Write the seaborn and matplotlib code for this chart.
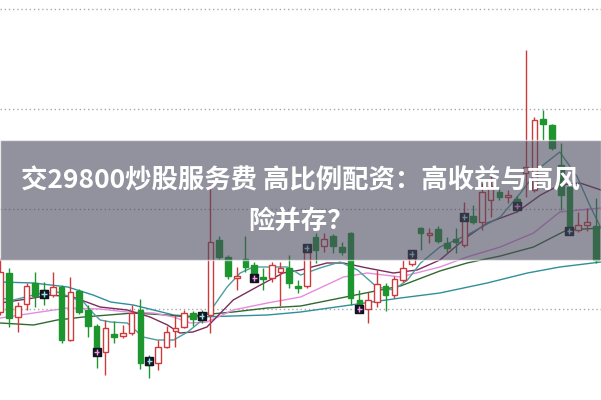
import numpy as np
import pandas as pd
import matplotlib
matplotlib.use("Agg")
import matplotlib.pyplot as plt
from matplotlib.patches import Rectangle
import seaborn as sns

# --------------------------
# Candle data
# --------------------------
opens = [9.97, 10.36, 9.92, 10.05, 10.26, 10.19, 10.14, 10.22, 9.69, 10.18,
         9.99, 9.83, 9.57, 9.75, 9.73, 9.76, 9.99, 9.51, 9.46, 9.62,
         9.78, 9.82, 9.96, 9.95, 9.94, 10.69, 10.52, 10.31, 10.50, 10.44,
         10.32, 10.31, 10.37, 10.41, 10.23, 10.23, 10.72, 10.63, 10.73, 10.62,
         10.76, 10.09, 10.00, 10.07, 10.23, 10.14, 10.29, 10.45, 10.81, 10.74,
         10.80, 10.66, 10.70, 10.64, 10.93, 10.87, 11.09, 11.17, 11.12, 11.10,
         11.36, 11.19, 11.90, 11.84, 11.44, 11.22, 10.79, 10.84, 10.83]
highs = [10.51, 10.41, 10.07, 10.26, 10.37, 10.27, 10.37, 10.24, 10.32, 10.20,
         10.04, 9.85, 9.89, 9.88, 9.84, 10.04, 10.10, 9.54, 9.69, 9.83,
         9.94, 9.99, 9.98, 9.99, 11.24, 10.73, 10.54, 10.42, 10.73, 10.47,
         10.41, 10.47, 10.47, 10.54, 10.29, 10.64, 10.76, 10.76, 10.75, 10.67,
         10.77, 10.19, 10.17, 10.39, 10.26, 10.33, 10.49, 10.59, 10.82, 10.81,
         10.83, 10.72, 10.81, 11.07, 11.04, 11.26, 11.44, 11.21, 11.19, 11.13,
         12.59, 11.92, 11.99, 11.85, 11.66, 11.24, 10.97, 11.01, 11.11]
lows = [9.94, 9.82, 9.77, 9.99, 10.02, 10.04, 10.12, 9.66, 9.68, 9.95,
        9.72, 9.41, 9.34, 9.66, 9.71, 9.74, 9.40, 9.31, 9.39, 9.61,
        9.62, 9.81, 9.83, 9.86, 9.76, 10.50, 10.30, 10.19, 10.37, 10.27,
        10.19, 10.27, 10.03, 10.21, 10.16, 10.21, 10.46, 10.57, 10.56, 10.54,
        10.04, 9.96, 9.86, 10.02, 9.98, 10.11, 10.27, 10.43, 10.59, 10.66,
        10.66, 10.56, 10.56, 10.62, 10.85, 10.79, 10.92, 11.09, 11.06, 10.97,
        11.12, 11.17, 11.69, 11.59, 10.99, 10.75, 10.77, 10.78, 10.46]
closes = [10.37, 9.91, 10.03, 10.23, 10.13, 10.12, 10.22, 9.69, 10.17, 9.97,
          9.83, 9.59, 9.81, 9.72, 9.76, 9.96, 9.46, 9.44, 9.62, 9.77,
          9.81, 9.96, 9.90, 9.91, 10.67, 10.52, 10.33, 10.33, 10.42, 10.29,
          10.30, 10.44, 10.41, 10.26, 10.21, 10.57, 10.59, 10.70, 10.63, 10.57,
          10.11, 9.99, 10.09, 10.25, 10.14, 10.30, 10.41, 10.53, 10.76, 10.76,
          10.68, 10.61, 10.67, 10.92, 10.87, 11.17, 11.23, 11.12, 11.14, 11.00,
          11.42, 11.89, 11.85, 11.61, 11.14, 10.78, 10.84, 10.87, 10.49]

# signal boxes drawn on some candles
signal_idx = [5, 11, 17, 23, 29, 35, 41, 47, 53, 59, 65]
signal_price = [10.15, 9.57, 9.48, 9.93, 10.31, 10.61, 10.00, 10.55, 10.92, 11.03, 10.78]
signal_kind = ["cyan", "pink", "cyan", "cyan", "pink", "cyan", "pink", "cyan", "cyan", "pink", "cyan"]

# --------------------------
# Moving average lines (sampled positions, candle index / price)
# --------------------------
ma5_x = [0, 1.5, 3.8, 4.9, 6.5, 8.0, 9.5, 10.6, 11.4, 12.6, 14.5, 16.3, 17.9, 19.8,
         21.4, 22.8, 24.3, 25.9, 27.4, 28.9, 31.2, 32.8, 34.3, 36.5, 38.8, 40.8,
         43.0, 44.9, 46.5, 48.0, 50.2, 53.3, 57.1, 59.4, 61.7, 63.9, 65.9, 67.4, 68.6]
ma5_y = [10.11, 10.09, 10.14, 10.16, 10.17, 10.12, 10.07, 9.96, 9.89, 9.87, 9.86, 9.72,
         9.69, 9.69, 9.77, 9.87, 10.02, 10.22, 10.36, 10.42, 10.42, 10.42, 10.34, 10.41,
         10.47, 10.39, 10.22, 10.19, 10.29, 10.46, 10.62, 10.74, 10.92, 11.16, 11.42,
         11.57, 11.32, 11.02, 10.81]

ma10_x = [0, 3.8, 5.7, 8.3, 11.4, 14.5, 17.1, 19.1, 20.5, 22.0, 23.6, 26.6, 29.7, 32.3,
          34.3, 37.3, 39.2, 41.9, 44.9, 47.6, 50.2, 53.3, 55.6, 59.0, 61.7, 63.9, 66.2, 68.6]
ma10_y = [10.06, 10.11, 10.14, 10.12, 10.02, 9.99, 9.92, 9.84, 9.76, 9.77, 9.82, 10.09,
          10.24, 10.36, 10.39, 10.46, 10.46, 10.41, 10.36, 10.39, 10.49, 10.72, 10.86,
          10.97, 11.14, 11.24, 11.26, 11.19]

ma20_x = [0, 3.8, 7.7, 11.4, 14.5, 17.5, 19.8, 21.7, 23.6, 26.6, 30.5, 34.3, 39.2, 41.9,
          45.7, 50.2, 53.3, 57.1, 60.9, 63.9, 68.6]
ma20_y = [9.91, 9.96, 10.01, 10.00, 9.97, 9.96, 9.92, 9.86, 9.87, 9.99, 10.06, 10.12,
          10.32, 10.36, 10.32, 10.42, 10.52, 10.62, 10.76, 10.97, 11.01]

ma30_x = [0, 3.8, 6.5, 9.5, 15.2, 19.1, 21.4, 22.8, 26.6, 30.5, 34.3, 40.0, 45.7, 50.2,
          53.3, 57.1, 60.9, 64.7, 68.6]
ma30_y = [9.86, 9.84, 9.89, 9.92, 9.96, 9.94, 9.92, 9.94, 9.97, 10.01, 10.03, 10.13,
          10.23, 10.38, 10.46, 10.53, 10.62, 10.79, 10.81]

ma60_x = [0, 3.8, 7.7, 10.6, 12.6, 15.2, 17.5, 19.8, 22.8, 26.6, 30.5, 34.3, 40.0, 45.7,
          50.2, 55.6, 60.2, 63.9, 68.6]
ma60_y = [10.27, 10.26, 10.22, 10.14, 10.07, 10.04, 9.99, 9.94, 9.92, 9.93, 9.94, 9.97,
          10.04, 10.11, 10.16, 10.26, 10.36, 10.42, 10.47]

grid_levels = [10, 11, 12, 13]

title_line1 = "交29800炒股服务费 高比例配资：高收益与高风"
title_line2 = "险并存？"

# --------------------------
# Plot
# --------------------------
sns.set_theme(style="white")
plt.rcParams["font.family"] = ["Noto Sans CJK SC", "DejaVu Sans"]

fig = plt.figure(figsize=(6.01, 4.0), dpi=100)
ax = fig.add_axes([0, 0, 1, 1])

for lvl in grid_levels:
    ax.axhline(lvl, color="#a8a8a8", linewidth=1, linestyle=(0, (1, 2)), zorder=1)

ma_lines = [
    (ma60_x, ma60_y, "#2f8f9a"),
    (ma30_x, ma30_y, "#2f6a2f"),
    (ma20_x, ma20_y, "#e58ce0"),
    (ma10_x, ma10_y, "#7d2c5c"),
    (ma5_x, ma5_y, "#4b9f9f"),
]
for xs, ys, col in ma_lines:
    sns.lineplot(x=xs, y=ys, color=col, linewidth=1.0, ax=ax, zorder=2,
                 sort=False, estimator=None)

candles = pd.DataFrame({"open": opens, "high": highs, "low": lows, "close": closes})
candles["idx"] = np.arange(len(candles))
up = candles[candles["close"] >= candles["open"]]
down = candles[candles["close"] < candles["open"]]

red = "#d0393c"
green = "#1e9630"
body_w = 0.64

ax.vlines(up["idx"], up["low"], up["high"], color=red, linewidth=1.0, zorder=3)
ax.vlines(down["idx"], down["low"], down["high"], color=green, linewidth=1.0, zorder=3)
ax.bar(up["idx"], np.maximum(up["close"] - up["open"], 0.02), bottom=up["open"],
       width=body_w, facecolor="white", edgecolor=red, linewidth=1.0, zorder=4)
ax.bar(down["idx"], np.maximum(down["open"] - down["close"], 0.02), bottom=down["close"],
       width=body_w, facecolor=green, edgecolor=green, linewidth=1.0, zorder=4)

sig_cols = {"cyan": "#8fe6ea", "pink": "#f39be6"}
ax.scatter(signal_idx, signal_price, marker="s", s=30, color="#141420", zorder=5)
ax.scatter(signal_idx, signal_price, marker="+", s=14, linewidths=1.0,
           color=[sig_cols[k] for k in signal_kind], zorder=6)

ax.set_xlim(-0.03, 68.6)
ax.set_ylim(9.09, 13.09)
ax.set_axis_off()

# grey title banner
fig.patches.append(Rectangle((0, 0.35), 1, 0.30, transform=fig.transFigure,
                             facecolor="#4a4a5e", alpha=0.6, zorder=10))
fig.text(0.5, 1 - 181 / 400, title_line1, color="white", fontsize=19,
         fontweight="bold", ha="center", va="center", zorder=11)
fig.text(0.5, 1 - 221 / 400, title_line2, color="white", fontsize=19,
         fontweight="bold", ha="center", va="center", zorder=11)

fig.savefig("out.png", dpi=100)
